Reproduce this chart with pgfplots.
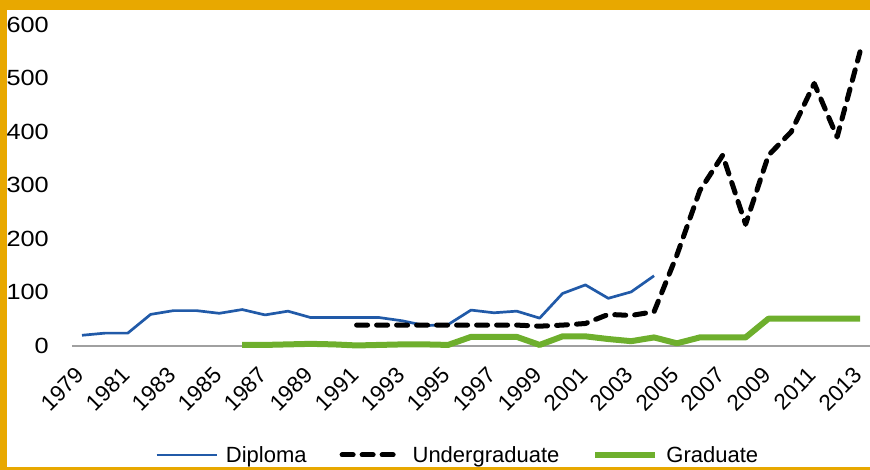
\documentclass[border=0pt]{standalone}
\usepackage{pgfplots}
\pgfplotsset{compat=1.18}
\usepackage{fontspec}
\setmainfont{Liberation Sans}
\definecolor{framecol}{RGB}{232,168,0}
\definecolor{dipblue}{RGB}{33,90,168}
\definecolor{gradgreen}{RGB}{110,175,45}
\definecolor{basegray}{RGB}{160,160,160}
\begin{document}
\begin{tikzpicture}
\useasboundingbox (0,0) rectangle (870pt,470pt);
\fill[framecol] (0,459.5pt) rectangle (870pt,470pt);
\fill[framecol] (0,0) rectangle (7pt,470pt);
\fill[framecol] (0,0) rectangle (870pt,3pt);
\begin{axis}[
  at={(72pt,124pt)}, anchor=south west, scale only axis,
  width=798pt, height=321.5pt,
  xmin=1978.563, xmax=2013.437, ymin=0, ymax=600,
  clip=false,
  axis x line=bottom, axis y line=left,
  x axis line style={draw=basegray, line width=1.5pt, -},
  y axis line style={draw=none},
  xtick={1979,1981,...,2013}, ytick={0,100,...,600},
  major tick length=0pt,
  tick style={draw=none},
  tick label style={/pgf/number format/assume math mode=true, /pgf/number format/1000 sep={}},
  yticklabel style={font=\fontsize{22}{26}\selectfont, anchor=east, inner sep=0pt, xshift=-23pt, xscale=1.15},
  xticklabel style={font=\fontsize{22.5}{26}\selectfont, anchor=south east, inner sep=0pt, xshift=4pt, yshift=-31pt, rotate=45},
  legend columns=3,
  legend image code/.code={\draw[#1] (0pt,0pt) -- (60pt,0pt);},
  legend style={draw=none, fill=none, at={(axis description cs:0.1003,-0.339)}, anchor=west,
    font=\fontsize{22}{26}\selectfont, nodes={inner sep=0pt},
    /tikz/every odd column/.append style={column sep=8pt},
    /tikz/every even column/.append style={column sep=33pt}},
]
\addplot[dipblue, line width=2.7pt, line join=round] coordinates {
(1979,20) (1980,24) (1981,24) (1982,59) (1983,66) (1984,66) (1985,61) (1986,68)
(1987,58) (1988,65) (1989,53) (1990,53) (1991,53) (1992,53) (1993,47) (1994,38)
(1995,40) (1996,67) (1997,62) (1998,65) (1999,52) (2000,98) (2001,114) (2002,89)
(2003,101) (2004,131)};
\addlegendentry{Diploma}
\addplot[black, line width=5pt, dash pattern=on 11pt off 9pt, line cap=round, line join=round] coordinates {
(1991,39) (1992,39) (1993,39) (1994,39) (1995,39) (1996,39) (1997,39) (1998,39)
(1999,37) (2000,39) (2001,42) (2002,59) (2003,57) (2004,64) (2005,170) (2006,290)
(2007,356) (2008,227) (2009,356) (2010,400) (2011,490) (2012,390) (2013,549)};
\addlegendentry{Undergraduate}
\addplot[gradgreen, line width=6pt, line join=round] coordinates {
(1986,2) (1987,2) (1988,3) (1989,4) (1990,3) (1991,1) (1992,2) (1993,3) (1994,3)
(1995,2) (1996,17) (1997,17) (1998,17) (1999,2) (2000,18) (2001,18) (2002,13)
(2003,9) (2004,16) (2005,5) (2006,16) (2007,16) (2008,16) (2009,51) (2010,51)
(2011,51) (2012,51) (2013,51)};
\addlegendentry{Graduate}
\end{axis}
\end{tikzpicture}
\end{document}
